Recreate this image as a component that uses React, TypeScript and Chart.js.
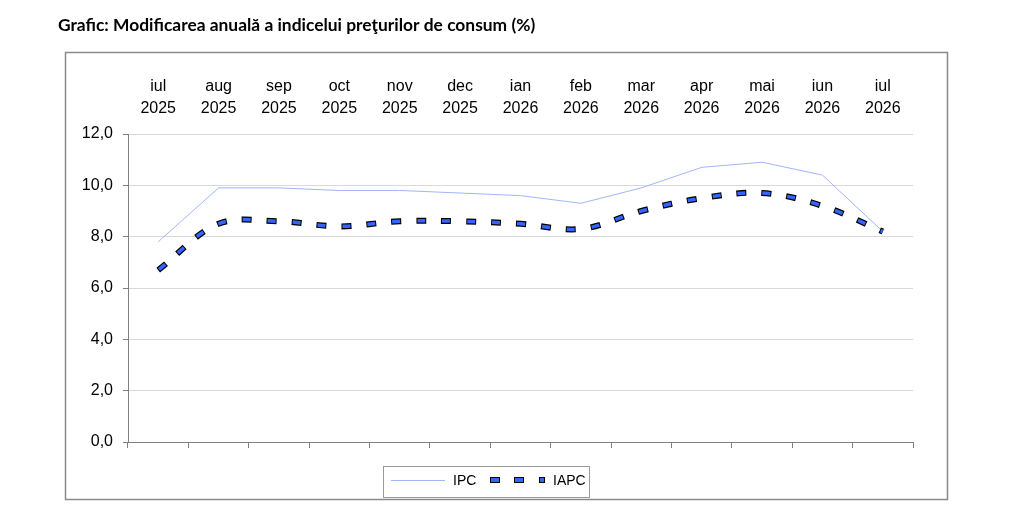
import React, { useEffect, useRef } from "react";
import { Chart, registerables } from "chart.js";

Chart.register(...registerables);

const months = ["iul", "aug", "sep", "oct", "nov", "dec", "ian", "feb", "mar", "apr", "mai", "iun", "iul"];
const years = ["2025", "2025", "2025", "2025", "2025", "2025", "2026", "2026", "2026", "2026", "2026", "2026", "2026"];
const ipc = [7.8, 9.9, 9.9, 9.8, 9.8, 9.7, 9.6, 9.3, 9.9, 10.7, 10.9, 10.4, 8.2];
const iapc = [6.7, 8.5, 8.6, 8.4, 8.6, 8.6, 8.5, 8.3, 9.0, 9.5, 9.7, 9.2, 8.2];

const title = "Grafic: Modificarea anuală a indicelui preţurilor de consum (%)";
const FONT = "'Liberation Sans', Arial, sans-serif";
const IPC_COLOR = "#9fb6f7";
const IAPC_COLOR = "#3366ff";

const framePlugin = {
  id: "frame",
  afterDraw(chart: any) {
    const ctx = chart.ctx;
    ctx.save();
    // title
    ctx.fillStyle = "#000";
    ctx.font = "bold 17.4px Lato, 'Open Sans', sans-serif";
    ctx.textBaseline = "middle";
    ctx.textAlign = "left";
    ctx.fillText(title, 58, 25);
    // outer frame
    ctx.strokeStyle = "#8a8a8a";
    ctx.lineWidth = 1.5;
    ctx.strokeRect(65.5, 52.5, 882, 447);
    // legend
    ctx.lineWidth = 1;
    ctx.strokeStyle = "#9a9a9a";
    ctx.strokeRect(383.5, 466.5, 206, 31);
    ctx.strokeStyle = IPC_COLOR;
    ctx.beginPath();
    ctx.moveTo(391, 480.5);
    ctx.lineTo(445, 480.5);
    ctx.stroke();
    ctx.font = "14px " + FONT;
    ctx.fillStyle = "#000";
    ctx.fillText("IPC", 453, 481);
    const dashes: [number, number][] = [[491, 8], [515, 8], [540, 4]];
    dashes.forEach(([x, w]) => {
      ctx.fillStyle = "#000";
      ctx.fillRect(x - 1, 477, w + 2, 6);
      ctx.fillStyle = IAPC_COLOR;
      ctx.fillRect(x, 478, w, 4);
    });
    ctx.fillStyle = "#000";
    ctx.fillText("IAPC", 553, 481);
    ctx.restore();
  },
};

export default function App() {
  const chartRef = useRef<HTMLCanvasElement>(null);

  useEffect(() => {
    const chart = new Chart(chartRef.current as HTMLCanvasElement, {
      type: "line",
      data: {
        labels: months,
        datasets: [
          {
            label: "IAPC",
            data: iapc,
            borderColor: IAPC_COLOR,
            borderWidth: 3.5,
            borderDash: [8, 17],
            borderDashOffset: -1,
            borderCapStyle: "butt",
            tension: 0.35,
            pointRadius: 0,
            order: 0,
          },
          {
            label: "IAPC_border",
            data: iapc,
            borderColor: "#000",
            borderWidth: 6,
            borderDash: [10, 15],
            borderCapStyle: "butt",
            tension: 0.35,
            pointRadius: 0,
            order: 1,
          },
          {
            label: "IPC",
            data: ipc,
            borderColor: IPC_COLOR,
            borderWidth: 1,
            tension: 0,
            pointRadius: 0,
            order: 2,
          },
        ],
      },
      options: {
        responsive: false,
        animation: false,
        layout: { padding: { left: 0, right: 111, top: 0, bottom: 61 } },
        plugins: {
          legend: { display: false },
          tooltip: { enabled: false },
        },
        scales: {
          x: {
            type: "category",
            position: "bottom",
            offset: true,
            grid: {
              display: true,
              drawOnChartArea: false,
              drawTicks: true,
              tickLength: 6,
              offset: true,
              tickColor: "#808080",
            },
            border: { display: true, color: "#808080", width: 1 },
            ticks: { display: false },
            afterFit: (scale: any) => {
              scale.height = 6;
            },
          },
          x2: {
            type: "category",
            position: "top",
            labels: months.map((m, i) => [m, years[i]]),
            offset: true,
            grid: { display: false, drawTicks: false },
            border: { display: false },
            ticks: {
              color: "#000",
              font: { family: FONT, size: 16, lineHeight: 1.375 },
              padding: 14,
              maxRotation: 0,
              autoSkip: false,
            },
            afterFit: (scale: any) => {
              scale.height = 134;
            },
          },
          y: {
            min: 0,
            max: 12,
            position: "left",
            grid: {
              color: "#d9d9d9",
              tickColor: "#808080",
              tickLength: 5,
            },
            border: { display: true, color: "#808080", width: 1 },
            ticks: {
              stepSize: 2,
              color: "#000",
              padding: 10,
              font: { family: FONT, size: 16 },
              callback: (v: any) => Number(v).toFixed(1).replace(".", ","),
            },
            afterFit: (scale: any) => {
              scale.width = 128;
            },
          },
        },
      },
      plugins: [framePlugin],
    });

    return () => {
      chart.destroy();
    };
  }, []);

  return (
    <div style={{ position: "fixed", left: 0, top: 0, width: 1024, height: 509, background: "#fff" }}>
      <canvas ref={chartRef} width={1024} height={509} style={{ display: "block" }}></canvas>
    </div>
  );
}
